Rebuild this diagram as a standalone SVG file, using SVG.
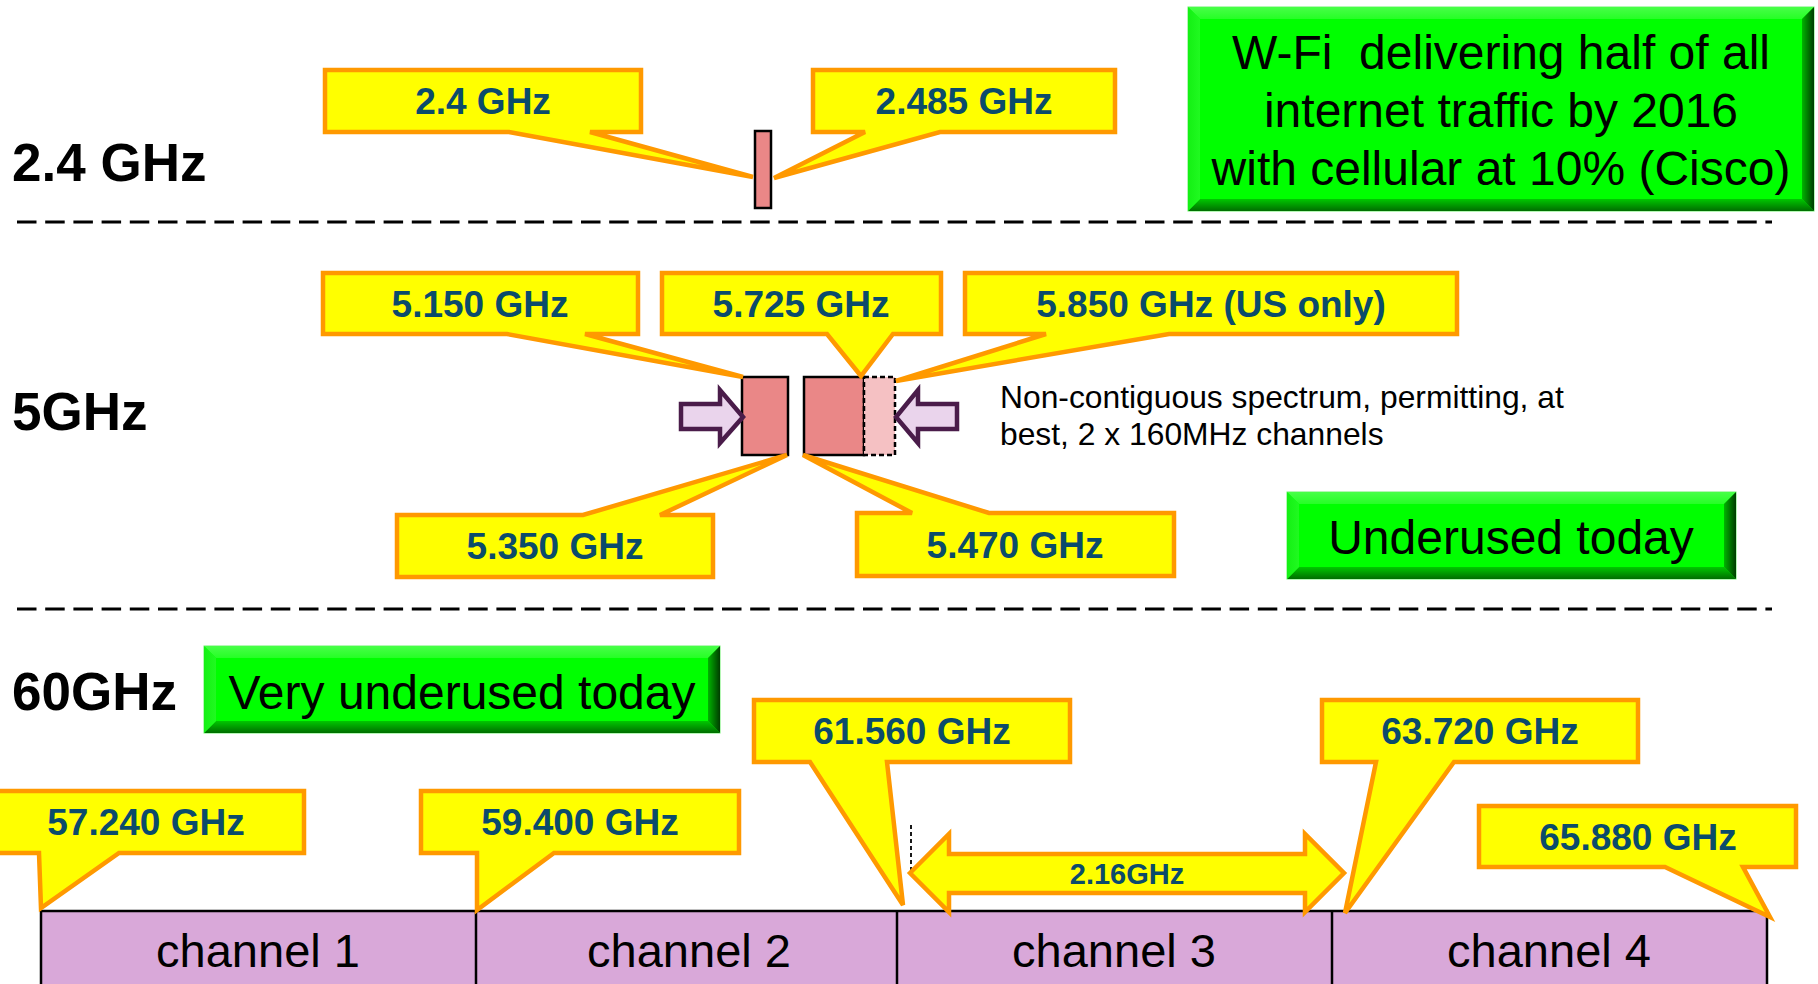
<svg xmlns="http://www.w3.org/2000/svg" width="1818" height="984" viewBox="0 0 1818 984">
<defs>
<style>
.lbl{font-family:"Liberation Sans",Arial,sans-serif;font-weight:bold;font-size:53px;fill:#000}
.co{fill:#FFFF00;stroke:#FF9900;stroke-width:4.5;stroke-linejoin:miter}
.cot{font-family:"Liberation Sans",Arial,sans-serif;font-weight:bold;font-size:37px;fill:#0B4B6B;text-anchor:middle}
.gt{font-family:"Liberation Sans",Arial,sans-serif;font-size:48px;fill:#000;text-anchor:middle}
.sep{stroke:#000;stroke-width:3;stroke-dasharray:19.5 8.7;fill:none}
.gbase{fill:#00FF00;stroke:#6CF06C;stroke-width:1}
.blk{fill:#EA8787;stroke:#000;stroke-width:2.5}
.arr{fill:#EAD4EC;stroke:#4A1C4A;stroke-width:4.5;stroke-linejoin:miter}
.ch{fill:#D9A8D9;stroke:#000;stroke-width:2.5}
.cht{font-family:"Liberation Sans",Arial,sans-serif;font-size:47px;fill:#000;text-anchor:middle}
.note{font-family:"Liberation Sans",Arial,sans-serif;font-size:31.8px;fill:#000}
</style>
<linearGradient id="gT" x1="0" y1="0" x2="0" y2="1"><stop offset="0" stop-color="#48FF48"/><stop offset="1" stop-color="#26FF26"/></linearGradient>
<linearGradient id="gB" x1="0" y1="0" x2="0" y2="1"><stop offset="0" stop-color="#00C800"/><stop offset="1" stop-color="#006E00"/></linearGradient>
<linearGradient id="gL" x1="0" y1="0" x2="1" y2="0"><stop offset="0" stop-color="#14F014"/><stop offset="1" stop-color="#20FA20"/></linearGradient>
<linearGradient id="gR" x1="0" y1="0" x2="1" y2="0"><stop offset="0" stop-color="#00B400"/><stop offset="1" stop-color="#003C00"/></linearGradient>
</defs>
<rect width="1818" height="984" fill="#fff"/>

<g id="band-labels">
<text class="lbl" x="12" y="181">2.4 GHz</text>
<text class="lbl" x="12" y="430">5GHz</text>
<text class="lbl" x="12" y="710">60GHz</text>
</g>

<g id="separators">
<line class="sep" x1="17" y1="222" x2="1772" y2="222"/>
<line class="sep" x1="17" y1="609" x2="1772" y2="609"/>
</g>

<g id="note-wifi">
<rect class="gbase" x="1188" y="7" width="626" height="204"/>
<polygon fill="url(#gT)" points="1188,7 1814,7 1802,19 1200,19"/>
<polygon fill="url(#gB)" points="1200,199 1802,199 1814,211 1188,211"/>
<polygon fill="url(#gL)" points="1188,7 1200,19 1200,199 1188,211"/>
<polygon fill="url(#gR)" points="1802,19 1814,7 1814,211 1802,199"/>
<text class="gt" x="1501" y="69" style="white-space:pre">W-Fi  delivering half of all</text>
<text class="gt" x="1501" y="127">internet traffic by 2016</text>
<text class="gt" x="1501" y="185">with cellular at 10% (Cisco)</text>
</g>

<g id="band24">
<rect class="blk" x="755" y="131" width="16" height="77"/>
</g>
<g id="c-2400">
<path class="co" d="M325,70 H641 V132 H590 L753,177 L509,132 H325 Z"/>
<text class="cot" x="483" y="114">2.4 GHz</text>
</g>
<g id="c-2485">
<path class="co" d="M813,70 H1115 V132 H940 L774,178 L865,132 H813 Z"/>
<text class="cot" x="964" y="114">2.485 GHz</text>
</g>

<g id="band5">
<rect class="blk" x="742" y="377" width="46" height="78"/>
<rect class="blk" x="804" y="377" width="60" height="78"/>
<rect x="864" y="377" width="31" height="78" fill="#F5C1C3" stroke="#000" stroke-width="2.5" stroke-dasharray="5 3"/>
</g>
<g id="arrow-in-left">
<path class="arr" d="M681,404 H720 V390 L743,417 L720,443 V429 H681 Z"/>
</g>
<g id="arrow-in-right">
<path class="arr" d="M957,404 H918 V390 L896,417 L918,443 V429 H957 Z"/>
</g>
<g id="c-5150">
<path class="co" d="M323,273 H638 V334 H585 L743,377 L507,334 H323 Z"/>
<text class="cot" x="480" y="317">5.150 GHz</text>
</g>
<g id="c-5725">
<path class="co" d="M662,273 H941 V334 H893 L861,376 L827,334 H662 Z"/>
<text class="cot" x="801" y="317">5.725 GHz</text>
</g>
<g id="c-5850">
<path class="co" d="M965,273 H1457 V334 H1169 L896,381 L1046,334 H965 Z"/>
<text class="cot" x="1211" y="317">5.850 GHz (US only)</text>
</g>
<g id="c-5350">
<path class="co" d="M397,515 H583 L787,455 L660,515 H713 V577 H397 Z"/>
<text class="cot" x="555" y="559">5.350 GHz</text>
</g>
<g id="c-5470">
<path class="co" d="M857,513 H912 L803,455 L989,513 H1174 V576 H857 Z"/>
<text class="cot" x="1015" y="558">5.470 GHz</text>
</g>
<g id="note-5">
<text class="note" x="1000" y="408">Non-contiguous spectrum, permitting, at</text>
<text class="note" x="1000" y="445">best, 2 x 160MHz channels</text>
</g>
<g id="note-underused">
<rect class="gbase" x="1287" y="492" width="449" height="87"/>
<polygon fill="url(#gT)" points="1287,492 1736,492 1724,504 1299,504"/>
<polygon fill="url(#gB)" points="1299,567 1724,567 1736,579 1287,579"/>
<polygon fill="url(#gL)" points="1287,492 1299,504 1299,567 1287,579"/>
<polygon fill="url(#gR)" points="1724,504 1736,492 1736,579 1724,567"/>
<text class="gt" x="1511" y="554">Underused today</text>
</g>

<g id="note-very-underused">
<rect class="gbase" x="204" y="646" width="516" height="87"/>
<polygon fill="url(#gT)" points="204,646 720,646 708,658 216,658"/>
<polygon fill="url(#gB)" points="216,721 708,721 720,733 204,733"/>
<polygon fill="url(#gL)" points="204,646 216,658 216,721 204,733"/>
<polygon fill="url(#gR)" points="708,658 720,646 720,733 708,721"/>
<text class="gt" x="462" y="709">Very underused today</text>
</g>

<g id="channels">
<rect class="ch" x="41" y="911" width="1726" height="90"/>
<line x1="476" y1="911" x2="476" y2="1001" stroke="#000" stroke-width="2.5"/>
<line x1="897" y1="911" x2="897" y2="1001" stroke="#000" stroke-width="2.5"/>
<line x1="1332" y1="911" x2="1332" y2="1001" stroke="#000" stroke-width="2.5"/>
<text class="cht" x="258" y="967">channel 1</text>
<text class="cht" x="689" y="967">channel 2</text>
<text class="cht" x="1114" y="967">channel 3</text>
<text class="cht" x="1549" y="967">channel 4</text>
</g>

<g id="connectors">
<line x1="911" y1="825" x2="911" y2="872" stroke="#000" stroke-width="1.8" stroke-dasharray="4 3"/>
<path class="co" d="M910,873 L949,834 V854 H1305 V834 L1344,873 L1305,912 V893 H949 V912 Z"/>
<text class="cot" style="font-size:29px" x="1127" y="884">2.16GHz</text>
</g>

<g id="c-57240">
<path class="co" d="M-12,791 H304 V853 H119 L41,908 L39,853 H-12 Z"/>
<text class="cot" x="146" y="835">57.240 GHz</text>
</g>
<g id="c-59400">
<path class="co" d="M421,791 H739 V853 H554 L477,910 L477,853 H421 Z"/>
<text class="cot" x="580" y="835">59.400 GHz</text>
</g>
<g id="c-61560">
<path class="co" d="M754,700 H1070 V762 H887 L903,905 L810,762 H754 Z"/>
<text class="cot" x="912" y="744">61.560 GHz</text>
</g>
<g id="c-63720">
<path class="co" d="M1322,700 H1638 V762 H1454 L1345,913 L1376,762 H1322 Z"/>
<text class="cot" x="1480" y="744">63.720 GHz</text>
</g>
<g id="c-65880">
<path class="co" d="M1479,806 H1796 V867 H1743 L1770,917 L1665,867 H1479 Z"/>
<text class="cot" x="1638" y="850">65.880 GHz</text>
</g>
</svg>
